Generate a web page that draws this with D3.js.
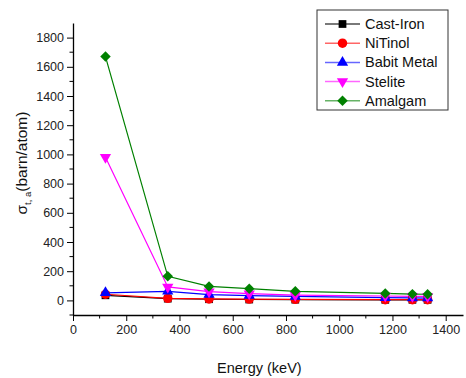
<!DOCTYPE html>
<html>
<head>
<meta charset="utf-8">
<script src="https://cdn.jsdelivr.net/npm/d3@7"></script>
<style>
  body { margin: 0; background: #fff; }
  svg { font-family: "Liberation Sans", Arial, sans-serif; }
</style>
</head>
<body>
<div id="chart"></div>
<script>
// data
const energies = [122, 356, 511, 662, 835, 1173, 1275, 1332];
const castIron = [35, 12, 8, 6, 5, 4, 4, 4];
const niTinol = [42, 14, 10, 9, 7, 5, 5, 5];
const babitMetal = [52, 62, 40, 33, 27, 19, 17, 16];
const stelite = [980, 92, 60, 46, 36, 30, 28, 27];
const amalgam = [1670, 165, 96, 80, 62, 48, 43, 42];
const seriesNames = ['Cast-Iron', 'NiTinol', 'Babit Metal', 'Stelite', 'Amalgam'];
const xTicks = [0, 200, 400, 600, 800, 1000, 1200, 1400];
const yTicks = [0, 200, 400, 600, 800, 1000, 1200, 1400, 1600, 1800];

const width = 466;
const height = 378;
const margin = {left: 73, right: 3, top: 23, bottom: 63};

const series = [
  {name: seriesNames[0], values: castIron, color: '#000000', symbol: d3.symbolSquare, size: 60},
  {name: seriesNames[1], values: niTinol, color: '#ff0000', symbol: d3.symbolCircle, size: 70},
  {name: seriesNames[2], values: babitMetal, color: '#0000ff', symbol: d3.symbolTriangle, size: 55},
  {name: seriesNames[3], values: stelite, color: '#ff00ff', symbol: d3.symbolTriangle, size: 55, rot: 180},
  {name: seriesNames[4], values: amalgam, color: '#008000', symbol: d3.symbolSquare, size: 55, rot: 45}
];

const svg = d3.select('#chart')
  .append('svg')
  .attr('width', width)
  .attr('height', height);

const x = d3.scaleLinear()
  .domain([0, 1465])
  .range([margin.left, width - margin.right]);

const y = d3.scaleLinear()
  .domain([-100, 1900])
  .range([height - margin.bottom, margin.top]);

// minor ticks every 100
const xMinor = d3.range(100, 1465, 200);
const yMinor = d3.range(-100, 1900, 200);

svg.append('g')
  .attr('transform', 'translate(0,' + (height - margin.bottom) + ')')
  .selectAll('line')
  .data(xMinor)
  .join('line')
  .attr('x1', d => x(d)).attr('x2', d => x(d))
  .attr('y1', 0).attr('y2', 3.5)
  .attr('stroke', '#000');

svg.append('g')
  .attr('transform', 'translate(' + margin.left + ',0)')
  .selectAll('line')
  .data(yMinor)
  .join('line')
  .attr('y1', d => y(d)).attr('y2', d => y(d))
  .attr('x1', 0).attr('x2', -3.5)
  .attr('stroke', '#000');

const xAxis = d3.axisBottom(x)
  .tickValues(xTicks)
  .tickFormat(d3.format('d'))
  .tickSize(6)
  .tickSizeOuter(0)
  .tickPadding(4);

const yAxis = d3.axisLeft(y)
  .tickValues(yTicks)
  .tickFormat(d3.format('d'))
  .tickSize(6)
  .tickSizeOuter(0)
  .tickPadding(3);

const gx = svg.append('g')
  .attr('transform', 'translate(0,' + (height - margin.bottom) + ')')
  .call(xAxis);

const gy = svg.append('g')
  .attr('transform', 'translate(' + margin.left + ',0)')
  .call(yAxis);

[gx, gy].forEach(g => {
  g.selectAll('text').attr('font-size', 12.5).attr('fill', '#222').attr('font-family', '"Liberation Sans", Arial, sans-serif');
  g.select('.domain').attr('stroke-width', 1.3);
});

// series lines and markers
const line = d3.line()
  .x((d, i) => x(energies[i]))
  .y(d => y(d));

series.forEach(s => {
  svg.append('path')
    .datum(s.values)
    .attr('d', line)
    .attr('fill', 'none')
    .attr('stroke', s.color)
    .attr('stroke-width', 1.2);
});

series.forEach(s => {
  svg.append('g')
    .selectAll('path')
    .data(s.values)
    .join('path')
    .attr('d', d3.symbol().type(s.symbol).size(s.size))
    .attr('transform', (d, i) => 'translate(' + x(energies[i]) + ',' + y(d) + ')' + (s.rot ? ' rotate(' + s.rot + ')' : ''))
    .attr('fill', s.color);
});

// legend
const legend = svg.append('g')
  .attr('transform', 'translate(317,10)');

legend.append('rect')
  .attr('width', 131)
  .attr('height', 100)
  .attr('fill', '#fff')
  .attr('stroke', '#333')
  .attr('stroke-width', 1);

const items = legend.selectAll('g.item')
  .data(series)
  .join('g')
  .attr('class', 'item')
  .attr('transform', (d, i) => 'translate(0,' + (14 + i * 19.2) + ')');

items.append('line')
  .attr('x1', 8).attr('x2', 43)
  .attr('stroke', d => d.color)
  .attr('stroke-opacity', (d, i) => i === 0 ? 0.7 : 0.6)
  .attr('stroke-width', 1.5);

items.append('path')
  .attr('d', d => d3.symbol().type(d.symbol).size(d.size)())
  .attr('transform', d => 'translate(25.5,0)' + (d.rot ? ' rotate(' + d.rot + ')' : ''))
  .attr('fill', d => d.color);

items.append('text')
  .attr('x', 48)
  .attr('dy', '0.35em')
  .attr('font-size', 14.5)
  .attr('fill', '#111')
  .text(d => d.name);

// axis titles
svg.append('text')
  .attr('x', x(700))
  .attr('y', 373)
  .attr('text-anchor', 'middle')
  .attr('font-size', 14.5)
  .attr('fill', '#111')
  .text('Energy (keV)');

const yt = svg.append('text')
  .attr('transform', 'translate(27,' + 163 + ') rotate(-90)')
  .attr('text-anchor', 'middle')
  .attr('font-size', 15.5)
  .attr('fill', '#111');
yt.append('tspan').text('σ');
yt.append('tspan').attr('font-size', 9.5).attr('dy', 4).text('t, a');
yt.append('tspan').attr('dy', -4).text('(barn/atom)');
</script>
</body>
</html>
